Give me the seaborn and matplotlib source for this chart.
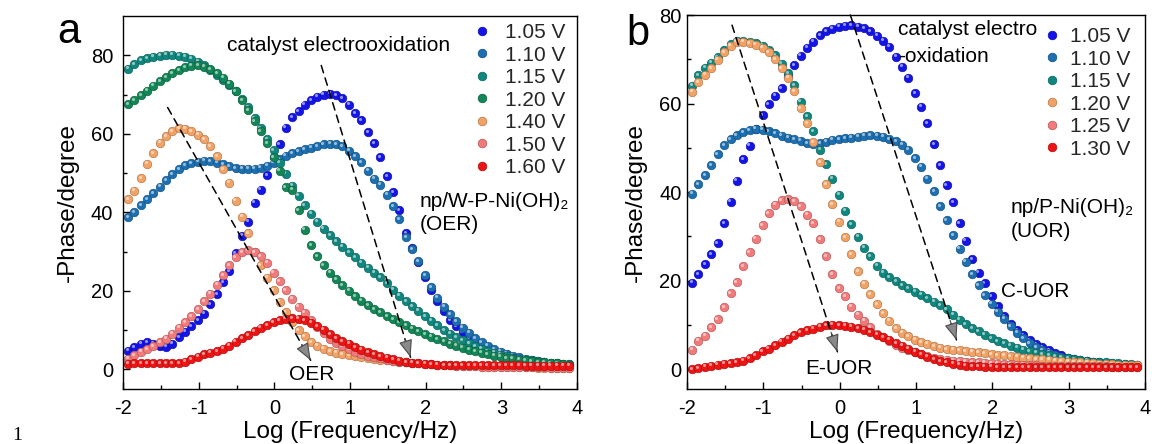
import numpy as np
import pandas as pd
import matplotlib
matplotlib.use("Agg")
import matplotlib.pyplot as plt
import matplotlib.transforms as mtransforms
from matplotlib.colors import to_rgb
from matplotlib.lines import Line2D
import seaborn as sns

# ---------------- data ----------------
log_f = [-1.93, -1.85, -1.76, -1.68, -1.60, -1.51, -1.43, -1.35, -1.26, -1.18, -1.10, -1.01,
         -0.93, -0.85, -0.76, -0.68, -0.60, -0.51, -0.43, -0.35, -0.26, -0.18, -0.10, -0.01,
         0.07, 0.15, 0.24, 0.32, 0.40, 0.49, 0.57, 0.65, 0.74, 0.82, 0.90, 0.99,
         1.07, 1.15, 1.24, 1.32, 1.40, 1.49, 1.57, 1.65, 1.74, 1.82, 1.90, 1.99,
         2.07, 2.15, 2.24, 2.32, 2.40, 2.49, 2.57, 2.65, 2.74, 2.82, 2.90, 2.99,
         3.07, 3.15, 3.24, 3.32, 3.40, 3.49, 3.57, 3.65, 3.74, 3.82, 3.90]

a_labels = ["1.05 V", "1.10 V", "1.15 V", "1.20 V", "1.40 V", "1.50 V", "1.60 V"]
a_105 = [4.8, 5.7, 6.5, 6.9, 6.5, 5.9, 5.8, 6.5, 8.2, 9.6, 11.0, 12.6,
         14.2, 16.6, 19.2, 22.2, 25.0, 29.6, 34.0, 37.6, 42.5, 45.8, 49.4, 54.0,
         57.4, 61.6, 64.2, 65.8, 67.4, 68.6, 69.4, 70.0, 70.2, 69.8, 69.1, 67.4,
         65.2, 63.4, 60.4, 57.6, 54.0, 49.2, 45.2, 40.6, 34.7, 30.8, 27.4, 23.6,
         20.3, 17.3, 14.8, 12.6, 11.0, 9.4, 8.0, 6.8, 5.9, 4.8, 4.2, 3.6,
         3.2, 2.9, 2.5, 2.2, 1.9, 1.7, 1.5, 1.4, 1.2, 1.1, 1.0]
a_110 = [38.8, 40.0, 41.8, 43.3, 44.8, 46.5, 48.2, 49.7, 51.0, 52.0, 52.5, 52.9,
         53.1, 53.0, 52.6, 52.2, 51.8, 51.3, 51.1, 51.1, 51.1, 51.4, 51.9, 52.6,
         53.6, 54.4, 55.0, 55.6, 56.0, 56.5, 56.9, 57.3, 57.5, 57.4, 56.8, 55.7,
         54.3, 52.7, 50.6, 48.6, 47.0, 44.5, 41.6, 38.3, 33.6, 30.6, 27.6, 24.0,
         21.0, 18.3, 16.0, 14.0, 12.3, 10.6, 9.3, 8.0, 6.9, 6.0, 5.2, 4.5,
         4.0, 3.5, 3.1, 2.7, 2.4, 2.1, 1.9, 1.7, 1.5, 1.35, 1.25]
a_115 = [76.6, 77.8, 78.7, 79.2, 79.6, 79.9, 80.1, 80.1, 79.9, 79.6, 79.1, 78.4,
         77.5, 76.3, 75.0, 73.6, 72.3, 70.8, 68.8, 66.8, 64.0, 61.4, 58.7, 55.8,
         52.6, 49.8, 46.8, 44.2, 41.8, 39.6, 37.6, 35.8, 34.1, 32.6, 31.2, 29.8,
         28.5, 27.2, 25.9, 24.6, 23.4, 21.9, 20.3, 18.8, 17.4, 16.1, 14.9, 13.6,
         12.4, 11.2, 10.0, 9.1, 8.2, 7.4, 6.6, 5.9, 5.3, 4.7, 4.2, 3.7,
         3.3, 3.0, 2.7, 2.5, 2.3, 2.1, 1.9, 1.7, 1.6, 1.4, 1.3]
a_120 = [67.6, 68.6, 69.8, 71.0, 72.2, 73.4, 74.4, 75.4, 76.2, 76.9, 77.3, 77.4,
         77.1, 76.4, 75.5, 74.3, 72.8, 70.9, 68.5, 66.0, 63.2, 60.6, 57.6, 54.0,
         50.6, 46.4, 45.8, 40.5, 35.6, 31.6, 28.8, 26.6, 24.6, 22.9, 21.4, 20.0,
         18.7, 17.5, 16.4, 15.4, 14.5, 13.6, 12.8, 12.0, 11.2, 10.4, 9.7, 9.0,
         8.3, 7.7, 7.1, 6.5, 6.0, 5.5, 5.0, 4.6, 4.2, 3.8, 3.5, 3.2,
         2.9, 2.7, 2.5, 2.3, 2.1, 1.9, 1.8, 1.6, 1.5, 1.3, 1.2]
a_140 = [43.4, 45.5, 48.7, 52.4, 55.0, 57.7, 59.4, 60.6, 61.4, 61.3, 60.7, 59.8,
         58.6, 56.9, 54.3, 51.0, 47.5, 43.0, 38.9, 34.7, 30.0, 26.5, 23.3, 20.1,
         17.2, 14.6, 12.1, 10.0, 8.4, 6.9, 6.0, 5.3, 4.7, 4.2, 3.9, 3.6,
         3.4, 3.1, 2.9, 2.7, 2.5, 2.3, 2.1, 1.9, 1.8, 1.6, 1.5, 1.4,
         1.3, 1.2, 1.1, 1.0, 0.9, 0.9, 0.8, 0.8, 0.7, 0.7, 0.6, 0.6,
         0.6, 0.5, 0.5, 0.5, 0.5, 0.4, 0.4, 0.4, 0.4, 0.4, 0.4]
a_150 = [2.7, 3.6, 4.5, 5.2, 5.9, 6.9, 7.8, 9.1, 10.6, 12.0, 13.5, 15.4,
         17.4, 19.3, 21.6, 24.0, 26.6, 28.6, 29.8, 30.3, 29.9, 28.8, 27.2, 24.6,
         22.4, 20.2, 18.0, 16.0, 14.4, 12.6, 10.8, 9.2, 7.8, 6.8, 5.9, 5.1,
         4.5, 4.0, 3.5, 3.1, 2.8, 2.5, 2.2, 2.0, 1.8, 1.6, 1.5, 1.4,
         1.3, 1.2, 1.1, 1.0, 0.9, 0.9, 0.8, 0.8, 0.7, 0.7, 0.7, 0.6,
         0.6, 0.6, 0.5, 0.5, 0.5, 0.5, 0.5, 0.4, 0.4, 0.4, 0.4]
a_160 = [1.4, 1.5, 1.5, 1.5, 1.5, 1.5, 1.5, 1.5, 1.6, 2.0, 2.6, 3.2,
         3.8, 4.2, 4.7, 5.3, 6.0, 7.0, 7.9, 8.7, 9.8, 10.6, 11.3, 12.0,
         12.6, 12.9, 13.0, 12.9, 12.5, 11.9, 11.0, 10.1, 9.0, 8.0, 7.2, 6.5,
         5.6, 5.0, 4.4, 3.9, 3.4, 3.0, 2.6, 2.2, 1.9, 1.7, 1.5, 1.4,
         1.3, 1.2, 1.1, 1.1, 1.1, 1.0, 1.0, 1.0, 1.0, 1.0, 1.0, 1.0,
         1.0, 1.0, 1.0, 0.9, 0.9, 0.9, 0.9, 0.9, 0.9, 0.9, 0.9]

b_labels = ["1.05 V", "1.10 V", "1.15 V", "1.20 V", "1.25 V", "1.30 V"]
b_105 = [19.5, 21.5, 23.7, 26.0, 28.4, 33.0, 37.8, 42.6, 47.4, 50.5, 54.3, 57.4,
         59.9, 61.8, 63.4, 66.2, 68.6, 70.8, 72.6, 74.0, 75.4, 76.3, 76.9, 77.4,
         77.6, 77.7, 77.4, 77.0, 76.3, 75.3, 74.2, 72.8, 70.6, 68.3, 65.8, 62.3,
         59.3, 55.5, 50.8, 46.0, 41.6, 37.7, 33.0, 29.0, 24.8, 21.8, 19.4, 16.4,
         14.2, 12.0, 10.2, 8.8, 7.6, 6.5, 5.6, 4.9, 4.2, 3.6, 3.1, 2.6,
         2.3, 2.0, 1.8, 1.6, 1.5, 1.3, 1.2, 1.1, 1.0, 1.0, 0.9]
b_110 = [39.6, 41.8, 43.8, 46.0, 48.5, 50.6, 52.0, 52.8, 53.5, 54.0, 54.3, 54.1,
         53.7, 53.3, 52.7, 52.3, 51.9, 51.6, 51.1, 50.8, 51.1, 51.4, 51.8, 52.0,
         52.2, 52.3, 52.5, 52.7, 52.8, 52.7, 52.5, 52.0, 51.5, 50.7, 49.6, 47.7,
         45.7, 43.0, 40.2, 36.8, 33.6, 30.2, 27.2, 24.3, 21.5, 19.0, 16.7, 14.8,
         13.0, 11.4, 9.7, 8.2, 7.0, 5.9, 5.0, 4.3, 3.7, 3.2, 2.8, 2.5,
         2.2, 2.0, 1.8, 1.6, 1.5, 1.4, 1.3, 1.2, 1.1, 1.0, 1.0]
b_115 = [64.0, 66.4, 68.1, 69.2, 70.4, 72.0, 73.4, 74.2, 74.1, 73.9, 73.6, 73.1,
         72.2, 70.9, 69.0, 66.9, 64.1, 60.4, 57.2, 53.7, 49.6, 46.3, 43.0, 39.4,
         35.8, 32.7, 29.9, 27.4, 25.5, 23.4, 21.8, 20.8, 19.8, 19.0, 18.3, 17.5,
         16.8, 16.0, 15.2, 14.4, 13.5, 12.3, 11.2, 10.2, 9.3, 8.5, 7.8, 7.0,
         6.3, 5.8, 5.3, 4.8, 4.4, 4.0, 3.7, 3.4, 3.1, 2.8, 2.6, 2.4,
         2.2, 2.0, 1.9, 1.7, 1.6, 1.5, 1.4, 1.3, 1.2, 1.1, 1.0]
b_120 = [62.7, 64.8, 66.5, 68.0, 69.9, 71.6, 73.1, 74.0, 74.0, 73.6, 73.3, 72.6,
         71.6, 70.0, 68.0, 65.8, 62.8, 58.9, 55.5, 51.3, 46.7, 41.8, 37.3, 33.3,
         29.8, 26.0, 22.1, 19.3, 16.9, 14.6, 12.6, 10.9, 9.3, 8.2, 7.4, 6.6,
         6.1, 5.7, 5.2, 4.8, 4.5, 4.4, 4.2, 4.1, 3.9, 3.8, 3.6, 3.4,
         3.2, 3.1, 2.9, 2.8, 2.6, 2.5, 2.3, 2.2, 2.1, 1.9, 1.8, 1.7,
         1.6, 1.5, 1.4, 1.3, 1.2, 1.2, 1.1, 1.0, 1.0, 0.9, 0.9]
b_125 = [4.4, 6.4, 7.5, 9.4, 11.3, 14.0, 17.2, 19.7, 23.3, 26.4, 29.5, 32.5,
         35.2, 37.1, 38.1, 38.4, 38.0, 36.8, 34.9, 33.0, 29.3, 25.5, 21.5, 18.3,
         16.4, 14.1, 12.3, 10.9, 9.5, 8.0, 7.2, 6.3, 5.5, 4.8, 4.3, 3.8,
         3.3, 2.9, 2.6, 2.3, 2.1, 1.9, 1.8, 1.7, 1.6, 1.5, 1.4, 1.3,
         1.2, 1.1, 1.1, 1.0, 1.0, 0.9, 0.9, 0.8, 0.8, 0.8, 0.7, 0.7,
         0.7, 0.6, 0.6, 0.6, 0.6, 0.6, 0.5, 0.5, 0.5, 0.5, 0.5]
b_130 = [0.0, 0.2, 0.5, 0.8, 1.0, 1.2, 1.3, 1.5, 1.9, 2.5, 3.2, 4.0,
         4.6, 5.4, 6.2, 6.9, 7.6, 8.3, 8.8, 9.1, 9.6, 9.9, 10.0, 9.9,
         9.8, 9.6, 9.3, 8.9, 8.4, 7.8, 7.2, 6.6, 5.9, 5.3, 4.6, 3.9,
         3.3, 2.8, 2.3, 1.8, 1.5, 1.2, 1.0, 0.8, 0.7, 0.6, 0.5, 0.5,
         0.4, 0.4, 0.4, 0.4, 0.4, 0.4, 0.4, 0.4, 0.4, 0.4, 0.4, 0.4,
         0.4, 0.4, 0.4, 0.4, 0.4, 0.4, 0.4, 0.4, 0.4, 0.4, 0.4]

# ---------------- style ----------------
c_blue, c_steel, c_teal, c_green = "#1414e8", "#1c6fb0", "#10877e", "#128657"
c_orange, c_pink, c_red = "#f3a265", "#f37a7a", "#ee1414"
a_colors = [c_blue, c_steel, c_teal, c_green, c_orange, c_pink, c_red]
b_colors = [c_blue, c_steel, c_teal, c_orange, c_pink, c_red]

sns.set_theme(style="ticks")
plt.rcParams["font.family"] = ["Liberation Sans", "DejaVu Sans"]
plt.rcParams["axes.linewidth"] = 1.0
plt.rcParams["axes.unicode_minus"] = False

W, H = 1152, 444
fig = plt.figure(figsize=(W / 100, H / 100), dpi=100)


def fx(px):
    return px / W


def fy(py):
    return 1 - py / H


ax_a = fig.add_axes([fx(123), fy(389), (577 - 123) / W, (389 - 16) / H])
ax_b = fig.add_axes([fx(687), fy(389), (1145 - 687) / W, (389 - 15) / H])


def darker(c, f=0.72):
    r, g, b = to_rgb(c)
    return (r * f, g * f, b * f)


def draw_panel(ax, series, labels, colors):
    hl = mtransforms.offset_copy(ax.transData, fig=fig, x=-0.9, y=1.0, units="points")
    for vals, lab, col in zip(series, labels, colors):
        df = pd.DataFrame({"logf": log_f, "phase": vals})
        sns.scatterplot(data=df, x="logf", y="phase", color=col, s=38,
                        edgecolor=darker(col), linewidth=0.45, ax=ax, legend=False)
        ax.scatter(df["logf"], df["phase"], s=5, color="white", alpha=0.55,
                   linewidths=0, transform=hl)


draw_panel(ax_a, [a_105, a_110, a_115, a_120, a_140, a_150, a_160], a_labels, a_colors)
draw_panel(ax_b, [b_105, b_110, b_115, b_120, b_125, b_130], b_labels, b_colors)

for ax, ylim, ypad in [(ax_a, (-5, 90), 7), (ax_b, (-4.5, 80), 4)]:
    ax.set_xlim(-2, 4)
    ax.set_ylim(*ylim)
    ax.set_xticks([-2, -1, 0, 1, 2, 3, 4])
    ax.set_xticks(np.arange(-1.5, 4, 1.0), minor=True)
    ax.set_yticks([0, 20, 40, 60, 80])
    ax.set_yticks([10, 30, 50, 70], minor=True)
    ax.tick_params(which="both", direction="in", top=False, right=False,
                   width=1.0, color="black", labelsize=14.5, labelcolor="black")
    ax.tick_params(which="major", length=5)
    ax.tick_params(which="minor", length=3)
    ax.tick_params(axis="x", pad=7.5)
    ax.tick_params(axis="y", pad=ypad)
    for sp in ax.spines.values():
        sp.set_visible(True)
        sp.set_color("black")
        sp.set_linewidth(1.0)
    ax.set_xlabel("Log (Frequency/Hz)", fontsize=17.5, labelpad=2, color="black")
    ax.set_ylabel("-Phase/degree", fontsize=17.5, labelpad=9, color="black")
    ax.grid(False)


def dashed_arrow(ax, start, end):
    ax.annotate("", xy=end, xytext=start,
                arrowprops=dict(arrowstyle="-", linestyle=(0, (5, 3.5)), lw=1.1,
                                color="black", shrinkA=0, shrinkB=0))
    t = 0.94
    mid = (start[0] + (end[0] - start[0]) * t, start[1] + (end[1] - start[1]) * t)
    ax.annotate("", xy=end, xytext=mid,
                arrowprops=dict(arrowstyle="-|>,head_length=0.9,head_width=0.35",
                                lw=0.8, fc="#8a8a8a", ec="#4a4a4a",
                                shrinkA=0, shrinkB=0))


dashed_arrow(ax_a, (-1.41, 66.7), (0.48, 2.3))
dashed_arrow(ax_a, (0.62, 77.4), (1.80, 3.1))
dashed_arrow(ax_b, (-1.41, 77.7), (-0.03, 3.9))
dashed_arrow(ax_b, (0.14, 80.0), (1.53, 6.6))


def legend(ax, labels, colors, x0, ytop, hlen, hpad):
    handles = [Line2D([], [], ls="none", marker="o", markersize=6.2,
                      markerfacecolor=c, markeredgecolor=darker(c), markeredgewidth=0.5)
               for c in colors]
    ax.legend(handles, labels, loc="upper left", bbox_to_anchor=(fx(x0), fy(ytop)),
              bbox_transform=fig.transFigure, frameon=False, fontsize=15,
              handlelength=hlen, handletextpad=hpad, labelspacing=0.17,
              borderpad=0, borderaxespad=0, markerscale=1.0)


legend(ax_a, a_labels, a_colors, 471.6, 23, 1.0, 0.6)
legend(ax_b, b_labels, b_colors, 1043.7, 27, 0.8, 0.47)


def ftext(x, y, s, size=15, **kw):
    fig.text(fx(x), fy(y), s, ha="left", va="baseline", fontsize=size, color="black", **kw)


ftext(57, 43, "a", size=30)
ftext(626, 45, "b", size=30)
ftext(227, 51, "catalyst electrooxidation")
ftext(420, 207, "np/W-P-Ni(OH)₂")
ftext(420, 230, "(OER)")
ftext(289, 380, "OER")
ftext(898, 35, "catalyst electro")
ftext(898, 62, "-oxidation")
ftext(1011, 213, "np/P-Ni(OH)₂")
ftext(1011, 237, "(UOR)")
ftext(1001, 297, "C-UOR")
ftext(805, 374, "E-UOR")
fig.text(fx(12), fy(440), "1", fontsize=14, family=["Liberation Serif", "DejaVu Serif"],
         ha="left", va="baseline", color="black")

fig.savefig("out.png", dpi=100)
